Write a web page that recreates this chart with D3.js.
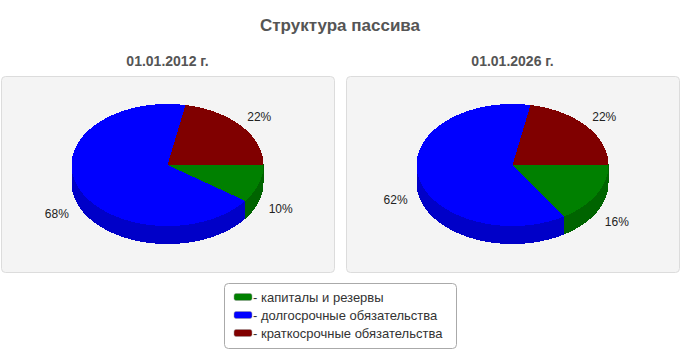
<!DOCTYPE html>
<html>
<head>
<meta charset="utf-8">
<script src="https://cdn.jsdelivr.net/npm/d3@7"></script>
<style>
  body { margin: 0; background: #fff; }
  text { font-family: "Liberation Sans", Arial, sans-serif; }
</style>
</head>
<body>
<svg id="chart" width="680" height="350"></svg>
<script>
// данные
const categories = ["капиталы и резервы", "долгосрочные обязательства", "краткосрочные обязательства"];
const dates = ["01.01.2012 г.", "01.01.2026 г."];
const values2012 = [10, 68, 22];
const values2026 = [16, 62, 22];
const title = "Структура пассива";

const width = 680, height = 350;
const svg = d3.select("#chart");

const color = d3.scaleOrdinal(categories, ["#008000", "#0000ff", "#800000"]);
const sideColor = d3.scaleOrdinal(categories, ["#006400", "#0000c8", "#600000"]);

const rx = 96, ry = 61, depth = 18;
const panelW = 333, panelH = 196, panelY = 76;

const panelX = d3.scalePoint().domain(dates).range([1, width - 1 - panelW]);

// pie starts at 3 o'clock and goes clockwise
const pie = d3.pie().sort(null).value(d => d.value)
    .startAngle(Math.PI / 2).endAngle(Math.PI / 2 + 2 * Math.PI);

const line = d3.line();

function ellipsePts(a0, a1, cy) {
    const n = Math.max(2, Math.ceil(Math.abs(a1 - a0) / 0.02));
    return d3.range(n + 1).map(i => {
        const a = a0 + (a1 - a0) * i / n;
        return [rx * Math.cos(a), cy + ry * Math.sin(a)];
    });
}

svg.append("text")
    .attr("x", width / 2).attr("y", 31)
    .attr("text-anchor", "middle")
    .attr("font-size", 17).attr("font-weight", "bold")
    .attr("fill", "#555")
    .text(title);

[values2012, values2026].forEach((vals, k) => {
    const date = dates[k];
    const px = panelX(date);
    const cx = px + panelW / 2, cy = 165;
    const data = categories.map((c, i) => ({ key: c, value: vals[i] }));
    const arcs = pie(data).map(d => ({ ...d, a0: d.startAngle - Math.PI / 2, a1: d.endAngle - Math.PI / 2 }));

    svg.append("text")
        .attr("x", cx).attr("y", 66)
        .attr("text-anchor", "middle")
        .attr("font-size", 14).attr("font-weight", "bold")
        .attr("fill", "#555")
        .text(date);

    svg.append("rect")
        .attr("x", px + 0.5).attr("y", panelY + 0.5)
        .attr("width", panelW).attr("height", panelH)
        .attr("rx", 4)
        .attr("fill", "#f4f4f4").attr("stroke", "#dcdcdc");

    const g = svg.append("g")
        .attr("transform", "translate(" + cx + "," + cy + ")")
        .style("shape-rendering", "crispEdges");

    // боковые стенки (видимая передняя половина)
    arcs.forEach(d => {
        const s0 = Math.max(d.a0, 0), s1 = Math.min(d.a1, Math.PI);
        if (s1 <= s0) return;
        const pts = ellipsePts(s0, s1, -1.5).concat(ellipsePts(s1, s0, depth));
        g.append("path")
            .attr("d", line(pts) + "Z")
            .attr("fill", sideColor(d.data.key));
    });

    // верхние сектора
    arcs.forEach(d => {
        const pts = [[0, 0]].concat(ellipsePts(d.a0, d.a1, 0));
        g.append("path")
            .attr("d", line(pts) + "Z")
            .attr("fill", color(d.data.key));
    });

    // подписи
    arcs.forEach(d => {
        const m = (d.a0 + d.a1) / 2;
        const s = Math.sin(m);
        g.append("text")
            .attr("x", rx * 1.24 * Math.cos(m))
            .attr("y", ry * 1.24 * s + (s > 0 ? 21 : 0) + 4)
            .attr("text-anchor", "middle")
            .attr("font-size", 12)
            .attr("fill", "#222")
            .text(Math.round(d.value) + "%");
    });
});

// легенда
const legW = 232, legH = 65;
const legend = svg.append("g")
    .attr("transform", "translate(" + (width / 2 - legW / 2) + ",283)");

legend.append("rect")
    .attr("x", 0.5).attr("y", 0.5)
    .attr("width", legW).attr("height", legH)
    .attr("rx", 4)
    .attr("fill", "#fff").attr("stroke", "#aaa");

const rowY = d3.scalePoint().domain(categories).range([14, 50]);

const item = legend.selectAll(".item")
    .data(categories)
    .enter().append("g")
    .attr("class", "item")
    .attr("transform", d => "translate(0," + rowY(d) + ")");

item.append("rect")
    .attr("x", 10).attr("y", -3.5)
    .attr("width", 18).attr("height", 7)
    .attr("rx", 2)
    .attr("fill", d => color(d))
    .attr("stroke", "#999").attr("stroke-width", 0.5);

item.append("text")
    .attr("x", 29).attr("y", 4.5)
    .attr("font-size", 13)
    .attr("fill", "#333")
    .text(d => "- " + d);
</script>
</body>
</html>
